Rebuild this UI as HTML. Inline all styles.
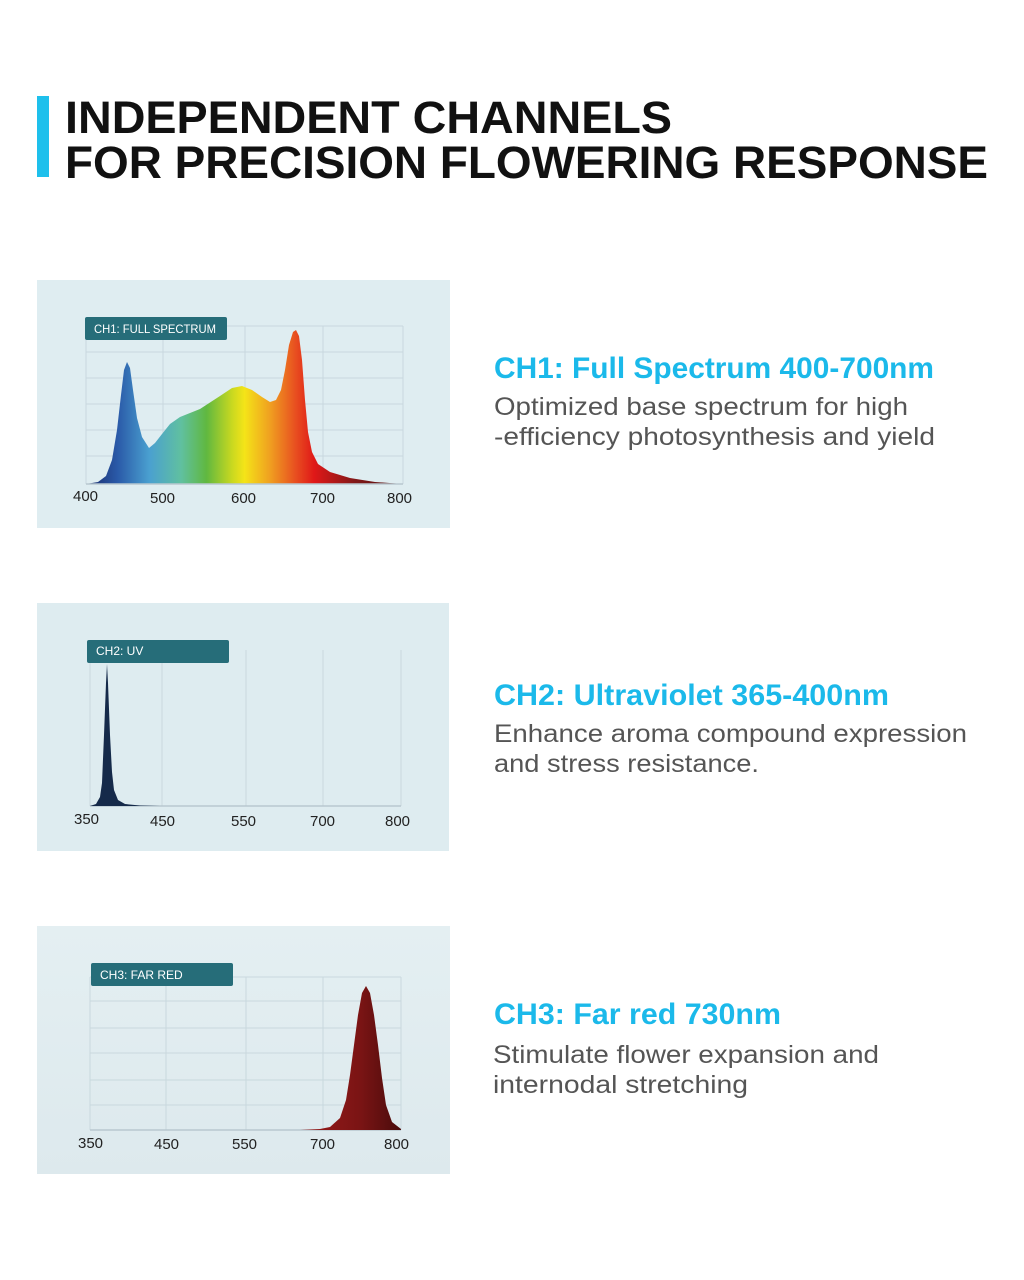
<!DOCTYPE html>
<html><head><meta charset="utf-8"><style>
body{margin:0;width:1024px;height:1280px;background:#fff;position:relative;overflow:hidden;font-family:"Liberation Sans",sans-serif}
</style></head><body>
<svg width="1024" height="1280" style="position:absolute;left:0;top:0" font-family="Liberation Sans, sans-serif">
<defs>
<linearGradient id="sp" x1="86" x2="403" gradientUnits="userSpaceOnUse">
<stop offset="0" stop-color="#1a2a6a"/><stop offset="0.1" stop-color="#2a5aa8"/><stop offset="0.2" stop-color="#4aa0d0"/>
<stop offset="0.3" stop-color="#60c0a0"/><stop offset="0.38" stop-color="#60b840"/><stop offset="0.46" stop-color="#c8d820"/>
<stop offset="0.5" stop-color="#f4e418"/><stop offset="0.58" stop-color="#f0a020"/><stop offset="0.66" stop-color="#e85020"/>
<stop offset="0.72" stop-color="#e01818"/><stop offset="0.85" stop-color="#801818"/><stop offset="1" stop-color="#501010"/>
</linearGradient>
<linearGradient id="fr" x1="300" x2="401" gradientUnits="userSpaceOnUse"><stop offset="0" stop-color="#9a1a1a"/><stop offset="0.6" stop-color="#7a1414"/><stop offset="1" stop-color="#4a0c0c"/></linearGradient>
<linearGradient id="bg3" x1="0" y1="0" x2="0" y2="1"><stop offset="0" stop-color="#e4eff2"/><stop offset="1" stop-color="#dde9ed"/></linearGradient>
</defs>
<rect x="37" y="96" width="12" height="81" fill="#1ec0ec"/>
<g font-weight="bold" fill="#111" font-size="45">
<text x="65" y="133" textLength="607" lengthAdjust="spacingAndGlyphs">INDEPENDENT CHANNELS</text>
<text x="65" y="178" textLength="923" lengthAdjust="spacingAndGlyphs">FOR PRECISION FLOWERING RESPONSE</text>
</g>
<g font-weight="bold" fill="#1bb9ea" font-size="30">
<text x="494" y="378" textLength="440" lengthAdjust="spacingAndGlyphs">CH1: Full Spectrum 400-700nm</text>
<text x="494" y="705" textLength="395" lengthAdjust="spacingAndGlyphs">CH2: Ultraviolet 365-400nm</text>
<text x="494" y="1024" textLength="287" lengthAdjust="spacingAndGlyphs">CH3:  Far red 730nm</text>
</g>
<g fill="#555" font-size="25">
<text x="494" y="415" textLength="414" lengthAdjust="spacingAndGlyphs">Optimized base spectrum for high</text>
<text x="494" y="445" textLength="441" lengthAdjust="spacingAndGlyphs">-efficiency photosynthesis and yield</text>
<text x="494" y="742" textLength="473" lengthAdjust="spacingAndGlyphs">Enhance aroma compound expression</text>
<text x="494" y="772" textLength="265" lengthAdjust="spacingAndGlyphs">and stress resistance.</text>
<text x="493" y="1063" textLength="386" lengthAdjust="spacingAndGlyphs">Stimulate flower expansion and</text>
<text x="493" y="1093" textLength="255" lengthAdjust="spacingAndGlyphs">internodal stretching</text>
</g>
<rect x="37" y="280" width="413" height="248" fill="#dfedf1"/>
<rect x="37" y="603" width="412" height="248" fill="#deecf0"/>
<rect x="37" y="926" width="413" height="248" fill="url(#bg3)"/>
<g stroke="#c9d8de" stroke-width="1" fill="none">
<path d="M86 326H403M86 352H403M86 378H403M86 404H403M86 430H403M86 456H403M86 326V484M163 326V484M245 326V484M323 326V484M403 326V484"/>
<path d="M90 650V806M162 650V806M246 650V806M323 650V806M401 650V806"/>
<path d="M90 977H401M90 1001H401M90 1028H401M90 1053H401M90 1080H401M90 1105H401M90 977V1130M166 977V1130M246 977V1130M323 977V1130M401 977V1130"/>
</g>
<path d="M86 484L98 482L106 476L112 460L117 430L121 395L124 370L127 362L130 368L133 390L137 418L142 437L149 448L155 443L162 434L170 424L180 417L200 409L220 396L232 388L242 386L252 390L262 397L270 402L276 400L281 390L285 370L289 345L293 332L296 330L299 336L302 360L305 400L308 432L312 452L318 464L330 472L350 478L375 482L403 484Z" fill="url(#sp)"/>
<path d="M86 484H403M90 806H401M90 1130H401" stroke="#b8c8cf" stroke-width="1.5"/>
<path d="M90 806L96 804L100 797L102 783L104 735L106 683L107 664L108 683L110 735L112 772L114 790L118 800L125 804L140 805.5L160 806Z" fill="#152a4a"/>
<path d="M300 1130L320 1129L330 1127L340 1118L346 1100L350 1075L354 1045L358 1015L362 993L366 986L370 993L374 1015L378 1045L382 1078L386 1105L392 1122L401 1129L401 1130Z" fill="url(#fr)"/>
<g font-size="15" fill="#222">
<text x="73" y="501">400</text><text x="150" y="503">500</text><text x="231" y="503">600</text><text x="310" y="503">700</text><text x="387" y="503">800</text>
<text x="74" y="824">350</text><text x="150" y="826">450</text><text x="231" y="826">550</text><text x="310" y="826">700</text><text x="385" y="826">800</text>
<text x="78" y="1148">350</text><text x="154" y="1149">450</text><text x="232" y="1149">550</text><text x="310" y="1149">700</text><text x="384" y="1149">800</text>
</g>
<rect x="85" y="317" width="142" height="23" rx="2" fill="#266d79"/>
<rect x="87" y="640" width="142" height="23" rx="2" fill="#266d79"/>
<rect x="91" y="963" width="142" height="23" rx="2" fill="#266d79"/>
<g font-size="12" fill="#fff">
<text x="94" y="333" textLength="122" lengthAdjust="spacingAndGlyphs">CH1: FULL SPECTRUM</text>
<text x="96" y="655">CH2: UV</text>
<text x="100" y="979">CH3: FAR RED</text>
</g>
</svg>
</body></html>
